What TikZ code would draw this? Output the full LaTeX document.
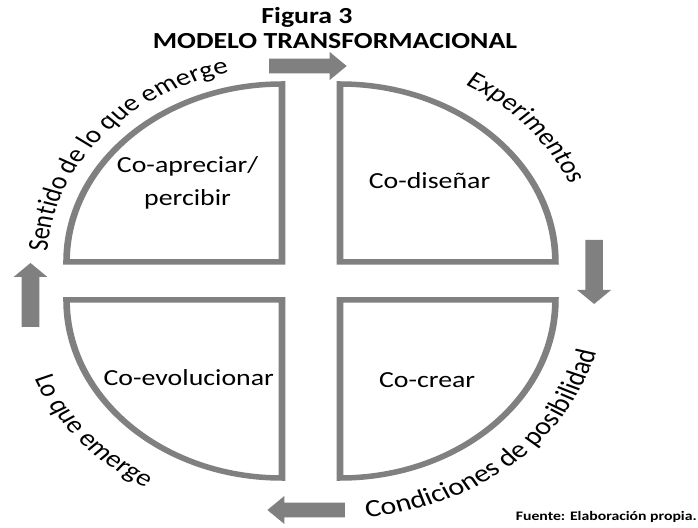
\documentclass[tikz,border=0pt]{standalone}
\usepackage{fontspec}
\setmainfont{Carlito}
\usetikzlibrary{calc,decorations.text}

\definecolor{rahmengrau}{RGB}{128,128,128}
\tikzstyle{viertel} = [draw=rahmengrau, line width=5.5pt, line join=miter, fill=white]
\tikzstyle{etikett} = [text=black, font=\fontsize{23}{33}\selectfont, align=center, inner sep=0pt]
\tikzstyle{kopf} = [text=black, font=\bfseries\fontsize{23}{27}\selectfont, inner sep=0pt]
\tikzset{pics/pfeil/.style={code={% Blockpfeil nach rechts, Mitte im Ursprung
	\fill[rahmengrau] (-32,-7.3) -- (18,-7.3) -- (18,-14) -- (32,0) -- (18,14) -- (18,7.3) -- (-32,7.3) -- cycle;}}}
\newcommand{\bogenschrift}{\fontsize{24}{28}\selectfont}
\newcommand{\bogenschriftgross}{\fontsize{24.8}{29}\selectfont}

\begin{document}
\begin{tikzpicture}[x=1pt, y=1pt]
		\useasboundingbox (0,0) rectangle (698,527);							% Bildgroesse
		\begin{scope}[transform canvas={xscale=1.21}]							% Bild ist in x gestreckt
		\coordinate (mitte) at (257,246);
		\coordinate (ecke-ol) at (233,265);				% Ecke oben links
		\coordinate (ecke-or) at (281,265);				% Ecke oben rechts
		\coordinate (ecke-ul) at (233,227);				% Ecke unten links
		\coordinate (ecke-ur) at (281,227);				% Ecke unten rechts
		
		% Viertelkreise
		\draw[viertel] (ecke-ol) -- ++(-178,0) arc[start angle=180, end angle=90, radius=178pt] -- cycle;
		\draw[viertel] (ecke-or) -- ++(0,178) arc[start angle=90, end angle=0, radius=178pt] -- cycle;
		\draw[viertel] (ecke-ur) -- ++(178,0) arc[start angle=0, end angle=-90, radius=178pt] -- cycle;
		\draw[viertel] (ecke-ul) -- ++(0,-178) arc[start angle=270, end angle=180, radius=178pt] -- cycle;
		
		% Beschriftung innen
		\node[etikett] (coapreciar) at ($(ecke-ol)+(-78,79)$) {Co-apreciar/\\percibir};
		\node[etikett] (codisenar) at ($(ecke-or)+(74,81)$) {Co-diseñar};
		\node[etikett] (coevolucionar) at ($(ecke-ul)+(-77,-78)$) {Co-evolucionar};
		\node[etikett] (cocrear) at ($(ecke-ur)+(72,-80)$) {Co-crear};
		
		% Beschriftung entlang der Boegen
		\path[decorate, decoration={text along path, text align=center,
			text={|\bogenschrift|Sentido de lo que emerge}}]
			($(ecke-ol)+(185:194pt)$) arc[start angle=185, end angle=95, radius=194pt];
		\path[decorate, decoration={text along path, text align=center,
			text={|\bogenschrift|Experimentos}}]
			($(ecke-or)+(86:205pt)$) arc[start angle=86, end angle=-4, radius=205pt];
		\path[decorate, decoration={text along path, text align=center,
			text={|\bogenschriftgross|Condiciones de posibilidad}}]
			($(ecke-ur)+(-94:218pt)$) arc[start angle=-94, end angle=-4, radius=218pt];
		\path[decorate, decoration={text along path, text align=center,
			text={|\bogenschrift|Lo que emerge}}]
			($(ecke-ul)+(175:219pt)$) arc[start angle=175, end angle=265, radius=219pt];
		
		% Pfeile im Uhrzeigersinn
		\pic (pfeil-o) at (254.5,461) {pfeil};
		\pic[rotate=-90] (pfeil-r) at (491,255) {pfeil};
		\pic[rotate=180] (pfeil-u) at (253,17) {pfeil};
		\pic[rotate=90] (pfeil-l) at (25.2,232) {pfeil};
		
		% Titel und Quelle
		\node[kopf] (figura) at (253.7,510) {Figura 3};
		\node[kopf] (titel) at (276.9,486) {MODELO TRANSFORMACIONAL};
		\node[kopf, font=\bfseries\fontsize{13}{15}\selectfont, anchor=east] (fuente) at (576,10) {Fuente: Elaboración propia.};
		\end{scope}
\end{tikzpicture}
\end{document}
